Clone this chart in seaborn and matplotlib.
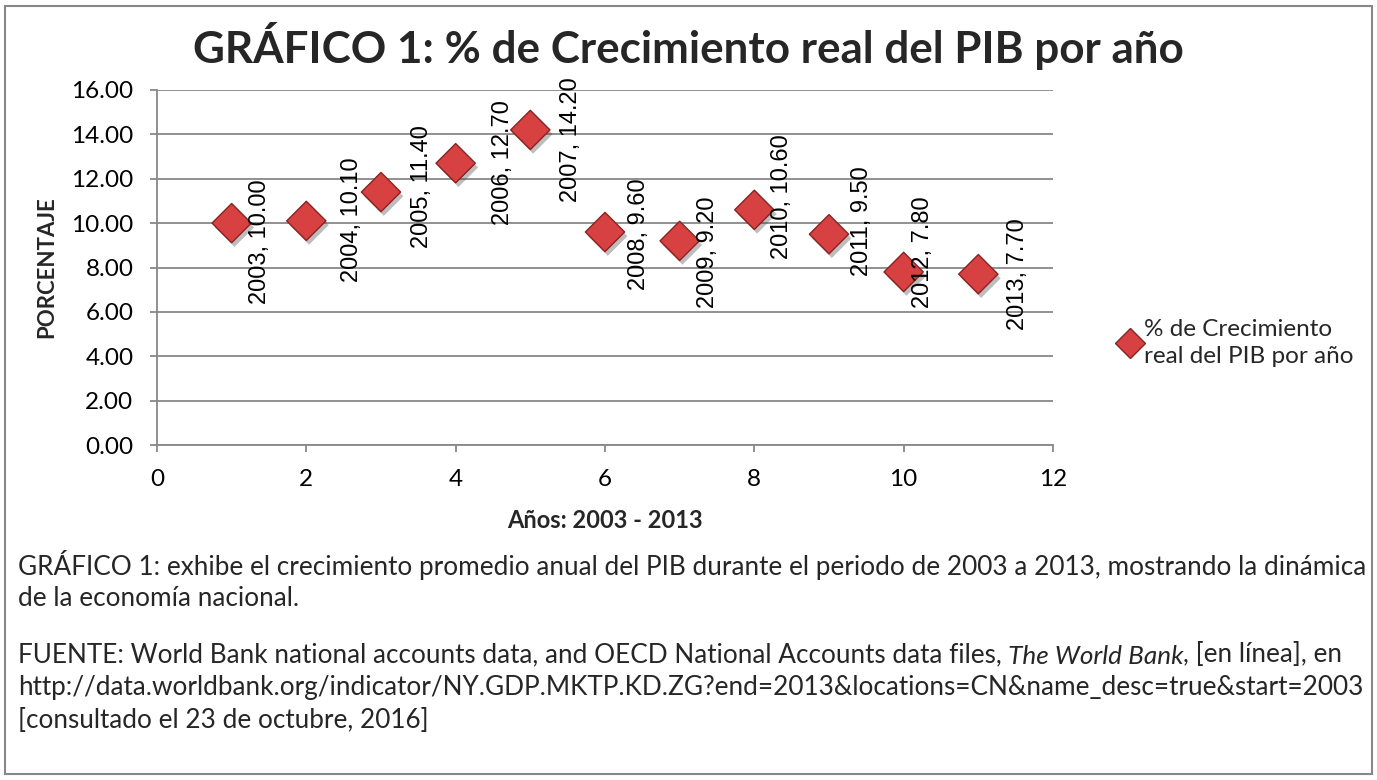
import numpy as np
import pandas as pd
import matplotlib
matplotlib.use("Agg")
import matplotlib.pyplot as plt
import matplotlib.patheffects as pe
from matplotlib.patches import Rectangle
from matplotlib.ticker import FormatStrFormatter
import seaborn as sns

# data
years = [2003, 2004, 2005, 2006, 2007, 2008, 2009, 2010, 2011, 2012, 2013]
x_pos = [1, 2, 3, 4, 5, 6, 7, 8, 9, 10, 11]
crecimiento = [10.0, 10.1, 11.4, 12.7, 14.2, 9.6, 9.2, 10.6, 9.5, 7.8, 7.7]

# label placement tweaks (pixels, right / down), as in the original layout
lab_dx = [28, 46, 41, 47, 41, 34, 28, 28, 33, 19, 40]
lab_dy = [19, -1, -6, -1, 10, 2, 11, -13, -13, -20, 0]

serie = "% de Crecimiento\nreal del PIB por año"
df = pd.DataFrame({"x": x_pos, "valor": crecimiento, "anio": years, "serie": serie})

sns.set_theme(style="white")
plt.rcParams["font.family"] = ["Lato", "DejaVu Sans"]

GRAY = "#888888"
ROJO = "#D84141"
BORDE = "#8A2222"

fig = plt.figure(figsize=(13.77, 7.8), dpi=100)
fig.patch.set_facecolor("white")
W, H = 1377, 780
ax = fig.add_axes([157 / W, 1 - 445 / H, (1053 - 157) / W, (445 - 90) / H])

sns.scatterplot(data=df, x="x", y="valor", hue="serie", palette=[ROJO],
                marker="D", s=400, edgecolor=BORDE, linewidth=1.0, ax=ax,
                zorder=3)
ax.collections[0].set_path_effects([pe.SimplePatchShadow(offset=(2, -3), shadow_rgbFace="#444444",
                                                         alpha=0.35),
                                    pe.Normal()])

for xv, yv, yr, dx, dy in zip(x_pos, crecimiento, years, lab_dx, lab_dy):
    ax.annotate(f"{yr}, {yv:.2f}", xy=(xv, yv), xytext=(dx * 0.72, -dy * 0.72),
                textcoords="offset points", rotation=90, ha="center", va="center",
                fontsize=17, family=["Liberation Sans", "DejaVu Sans"], color="black",
                zorder=4, annotation_clip=False)

ax.set_xlim(0, 12)
ax.set_ylim(0, 16)
ax.set_xticks(np.arange(0, 13, 2))
ax.set_yticks(np.arange(0, 17, 2))
ax.yaxis.set_major_formatter(FormatStrFormatter("%.2f"))
ax.grid(axis="y", color=GRAY, linewidth=1.3)
ax.grid(axis="x", visible=False)
ax.set_axisbelow(True)
for s in ["top", "right"]:
    ax.spines[s].set_visible(False)
for s in ["left", "bottom"]:
    ax.spines[s].set_color(GRAY)
    ax.spines[s].set_linewidth(1.3)
ax.tick_params(axis="both", which="major", direction="out", length=5, width=1.3,
               color=GRAY, labelsize=17.5, labelcolor="black")
ax.tick_params(axis="y", pad=12)
ax.tick_params(axis="x", pad=12)
ax.tick_params(left=True, bottom=True)

ax.set_xlabel("Años: 2003 - 2013", fontsize=17, fontweight="bold", labelpad=14)
ax.set_ylabel("PORCENTAJE", fontsize=16, fontweight="bold", labelpad=10)

leg = ax.legend(loc="center left", bbox_to_anchor=(1108 / W, 1 - 343 / H),
                bbox_transform=fig.transFigure, frameon=False, fontsize=17.5,
                handletextpad=0.1, handlelength=1.0, borderaxespad=0,
                markerscale=0.75)
for t in leg.get_texts():
    t.set_linespacing(1.4)

fig.text(0.5, 1 - 63 / H, "GRÁFICO 1: % de Crecimiento real del PIB por año",
         ha="center", va="baseline", fontsize=31.7, fontweight="bold")

# text under the chart
fs = 18.8
fig.text(18 / W, 1 - 565 / H,
         "GRÁFICO 1: exhibe el crecimiento promedio anual del PIB durante el periodo de 2003 a 2013, mostrando la dinámica",
         ha="left", va="center", fontsize=fs)
fig.text(18 / W, 1 - 598 / H, "de la economía nacional.", ha="left", va="center", fontsize=fs)
t1 = fig.text(18 / W, 1 - 655 / H,
              "FUENTE: World Bank national accounts data, and OECD National Accounts data files,",
              ha="left", va="center", fontsize=fs)
t2 = ax.annotate(" The World Bank", xy=(1, 0), xycoords=t1, ha="left", va="bottom",
                 fontsize=fs, style="italic", annotation_clip=False)
ax.annotate(", [en línea], en", xy=(1, 0), xycoords=t2, ha="left", va="bottom",
            fontsize=fs, annotation_clip=False)
fig.text(18 / W, 1 - 688 / H,
         "http://data.worldbank.org/indicator/NY.GDP.MKTP.KD.ZG?end=2013&locations=CN&name_desc=true&start=2003",
         ha="left", va="center", fontsize=fs)
fig.text(18 / W, 1 - 721 / H, "[consultado el 23 de octubre, 2016]",
         ha="left", va="center", fontsize=fs)

fig.patches.append(Rectangle((5 / W, 6 / H), 1367 / W, 768 / H, transform=fig.transFigure,
                             fill=False, edgecolor=GRAY, linewidth=1.5, figure=fig))

fig.savefig("out.png", dpi=100)
